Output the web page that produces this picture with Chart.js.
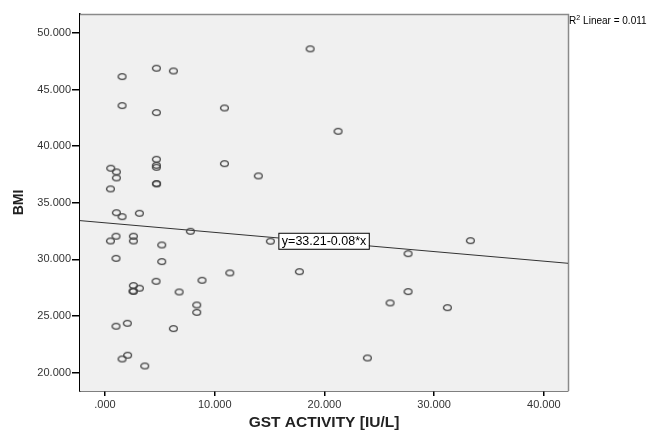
<!DOCTYPE html>
<html>
<head>
<meta charset="utf-8">
<script src="https://cdn.jsdelivr.net/npm/chart.js@4.4.1/dist/chart.umd.min.js"></script>
<style>
	body { margin:0; background:#fff; }
	#wrap { width:658px; height:430px; }
</style>
</head>
<body>
<div id="wrap"><canvas id="plot" width="658" height="430"></canvas></div>
<script>
// values
var gstActivity = [1.55, 4.68, 6.23, 1.55, 4.68, 0.52, 1.03, 1.03, 0.49, 4.68, 4.68, 4.68, 4.68, 4.70,
	1.03, 1.55, 3.13, 7.78, 1.00, 0.49, 2.58, 2.58, 5.17, 1.00, 5.17, 4.65, 8.84, 2.58, 3.13, 2.58, 2.55,
	6.75, 8.36, 8.36, 1.00, 2.03, 6.23, 1.55, 2.06, 3.62,
	18.69, 10.88, 21.24, 10.88, 13.97, 15.07, 11.37, 17.71, 27.62, 27.62, 25.98, 23.91, 33.30, 31.20];
var bmi = [46.15, 46.89, 46.65, 43.59, 42.97, 38.06, 37.73, 37.20, 36.23, 38.85, 38.32, 38.14, 36.70, 36.68,
	34.13, 33.78, 34.08, 32.49, 32.05, 31.63, 32.05, 31.63, 31.28, 30.10, 29.81, 28.07, 28.16, 27.69, 27.46, 27.19, 27.20,
	27.13, 25.98, 25.33, 24.10, 24.36, 23.89, 21.21, 21.54, 20.59,
	48.60, 43.38, 41.32, 38.46, 37.38, 31.61, 28.81, 28.92, 30.51, 27.16, 26.16, 21.30, 31.66, 25.74];

// fit line end points, as drawn at the plot edges
var fitX = [-2.28, 42.2];
var fitY = [33.43, 29.66];

var xTicks = [0, 10, 20, 30, 40];
var yTicks = [20, 25, 30, 35, 40, 45, 50];

var fitLabel = "y=33.21-0.08*x";
var r2Label = "Linear = 0.011";

function fmt(v) {
	var s = v.toFixed(3);
	if (s.indexOf("0.") == 0) s = s.substring(1);
	return s;
}

// hollow ellipse marker like the SPSS one
function makeMarker() {
	var c = document.createElement("canvas");
	c.width = 11; c.height = 9;
	var g = c.getContext("2d");
	g.strokeStyle = "#444";
	g.lineWidth = 1.3;
	g.beginPath();
	g.ellipse(5.5, 4.5, 3.9, 2.9, 0, 0, Math.PI * 2);
	g.stroke();
	return c;
}

var points = [];
for (var i = 0; i < gstActivity.length; i++) points.push({x: gstActivity[i], y: bmi[i]});
var fitPts = [];
for (var j = 0; j < fitX.length; j++) fitPts.push({x: fitX[j], y: fitY[j]});

var frame = {
	id: "frame",
	beforeDatasetsDraw: function(chart) {
		var a = chart.chartArea, ctx = chart.ctx;
		ctx.save();
		ctx.fillStyle = "#f0f0f0";
		ctx.fillRect(a.left, a.top, a.right - a.left, a.bottom - a.top);
		ctx.strokeStyle = "#8a8a8a";
		ctx.lineWidth = 1.5;
		ctx.beginPath();
		ctx.moveTo(a.left, a.top + 0.5);
		ctx.lineTo(a.right + 0.5, a.top + 0.5);
		ctx.lineTo(a.right + 0.5, a.bottom);
		ctx.stroke();
		ctx.restore();
	},
	afterDraw: function(chart) {
		var a = chart.chartArea, ctx = chart.ctx;
		var xs = chart.scales.x, ys = chart.scales.y;
		ctx.save();
		// equation box on the fit line
		ctx.font = "12.5px 'Liberation Sans', Arial, sans-serif";
		var w = ctx.measureText(fitLabel).width;
		var bx = xs.getPixelForValue(15.8), by = ys.getPixelForValue(31.65);
		ctx.fillStyle = "#fff";
		ctx.fillRect(bx, by - 8, w + 6, 16);
		ctx.strokeStyle = "#000";
		ctx.lineWidth = 1;
		ctx.strokeRect(bx + 0.5, by - 7.5, w + 6, 16);
		ctx.fillStyle = "#000";
		ctx.textBaseline = "middle";
		ctx.fillText(fitLabel, bx + 3.5, by + 1);
		// R squared note
		ctx.font = "10px 'Liberation Sans', Arial, sans-serif";
		ctx.textBaseline = "alphabetic";
		var tx = a.right + 1, ty = a.top + 10;
		ctx.fillText("R", tx, ty);
		tx += ctx.measureText("R").width;
		ctx.font = "7px 'Liberation Sans', Arial, sans-serif";
		ctx.fillText("2", tx, ty - 4);
		tx += ctx.measureText("2").width + 3;
		ctx.font = "10px 'Liberation Sans', Arial, sans-serif";
		ctx.fillText(r2Label, tx, ty);
		ctx.restore();
	}
};

var ctx = document.getElementById("plot").getContext("2d");
var chart = new Chart(ctx, {
	type: "scatter",
	data: {
		datasets: [{
			data: points,
			pointStyle: makeMarker(),
			pointRadius: 4,
			order: 1
		}, {
			type: "line",
			data: fitPts,
			borderColor: "#333",
			borderWidth: 1,
			pointRadius: 0,
			fill: false,
			order: 2
		}]
	},
	plugins: [frame],
	options: {
		responsive: false,
		animation: false,
		events: [],
		layout: { padding: { top: 14, right: 90, left: 0, bottom: 0 } },
		plugins: { legend: { display: false }, tooltip: { enabled: false } },
		scales: {
			x: {
				type: "linear",
				min: -2.28, max: 42.2,
				afterBuildTicks: function(s) { s.ticks = xTicks.map(function(v) { return {value: v}; }); },
				afterFit: function(s) { s.height = 39; },
				grid: { drawOnChartArea: false, drawTicks: true, tickLength: 5, color: "#000", lineWidth: 1.5 },
				border: { display: true, color: "#000", width: 1.5 },
				ticks: {
					callback: function(v) { return fmt(v); },
					color: "#333",
					padding: 2,
					maxRotation: 0,
					font: { family: "'Liberation Sans', Arial, sans-serif", size: 11 }
				},
				title: {
					display: true,
					text: "GST ACTIVITY [IU/L]",
					color: "#222",
					padding: { top: 0, bottom: 0 },
					font: { family: "'Liberation Sans', Arial, sans-serif", size: 15.5, weight: "bold", lineHeight: 1 }
				}
			},
			y: {
				type: "linear",
				min: 18.38, max: 51.68,
				afterBuildTicks: function(s) { s.ticks = yTicks.map(function(v) { return {value: v}; }); },
				afterFit: function(s) { s.width = 80; },
				grid: { drawOnChartArea: false, drawTicks: true, tickLength: 8, color: "#000", lineWidth: 1.5 },
				border: { display: true, color: "#000", width: 1.5 },
				ticks: {
					callback: function(v) { return fmt(v); },
					color: "#333",
					padding: 1,
					font: { family: "'Liberation Sans', Arial, sans-serif", size: 11 }
				},
				title: {
					display: true,
					text: "BMI",
					color: "#222",
					padding: { top: 12, bottom: 0 },
					font: { family: "'Liberation Sans', Arial, sans-serif", size: 14, weight: "bold", lineHeight: 1 }
				}
			}
		}
	}
});
</script>
</body>
</html>
